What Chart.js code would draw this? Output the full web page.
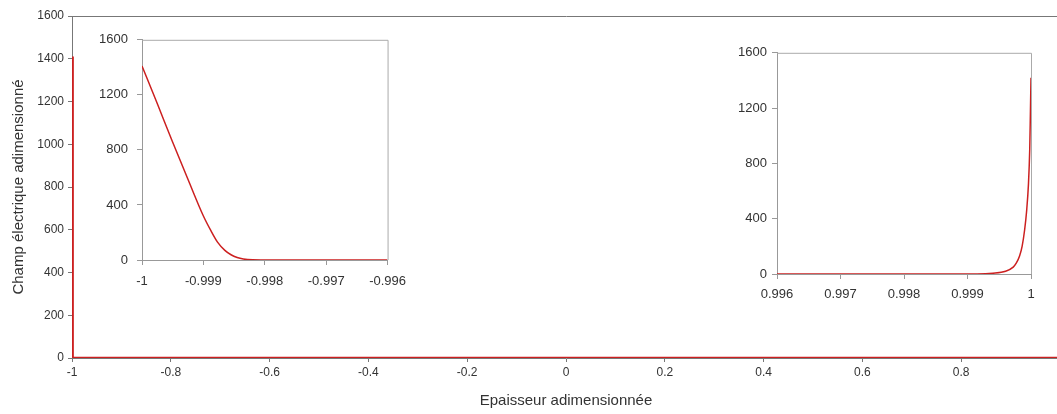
<!DOCTYPE html>
<html>
<head>
<meta charset="utf-8">
<script src="https://cdn.jsdelivr.net/npm/chart.js@4"></script>
<style>
  html, body { margin: 0; padding: 0; background: #fff; overflow: hidden; width: 1057px; height: 414px; }
  #wrap { position: relative; width: 1057px; height: 414px; overflow: hidden; }
  canvas { position: absolute; }
</style>
</head>
<body>
<div id="wrap">
  <canvas id="main" width="1062" height="414" style="left:0;top:0"></canvas>
  <canvas id="insetLeft" width="325" height="272" style="left:90px;top:23px"></canvas>
  <canvas id="insetRight" width="331" height="269" style="left:725px;top:40px"></canvas>
</div>
<script>
const xLeft = [-1, -0.99975, -0.9995, -0.99925, -0.999, -0.99888, -0.99877, -0.99865, -0.99855, -0.99845, -0.99835, -0.9982, -0.998, -0.996];
const eLeft = [1410, 1135, 855, 585, 320, 215, 130, 70, 38, 18, 7, 1, 0, 0];
const xRight = [0.996, 0.999, 0.99915, 0.9994, 0.9996, 0.99972, 0.99977, 0.99982, 0.99986, 0.9999, 0.99993, 0.99996, 0.99998, 0.99999, 1];
const eRight = [0, 0, 0, 5, 20, 50, 80, 130, 200, 320, 450, 650, 900, 1150, 1420];

const mainXTicks = [-1, -0.8, -0.6, -0.4, -0.2, 0, 0.2, 0.4, 0.6, 0.8];
const mainYTicks = [0, 200, 400, 600, 800, 1000, 1200, 1400, 1600];
const insetYTicks = [0, 400, 800, 1200, 1600];
const leftXTicks = [-1, -0.999, -0.998, -0.997, -0.996];
const rightXTicks = [0.996, 0.997, 0.998, 0.999, 1];

Chart.defaults.font.family = '"Liberation Sans", Arial, sans-serif';
Chart.defaults.color = '#333';
Chart.defaults.animation = false;

const RED = '#cc2020';

function toPoints(xs, ys) {
  return xs.map((x, i) => ({ x: x, y: ys[i] }));
}
function fmt(v) {
  return String(Number(v.toFixed(4)));
}
function fixedTicks(arr) {
  return scale => { scale.ticks = arr.map(v => ({ value: v })); };
}

const boxPlugin = {
  id: 'box',
  afterDraw(chart, args, opts) {
    const a = chart.chartArea, ctx = chart.ctx;
    ctx.save();
    ctx.strokeStyle = opts.color || '#aaa';
    ctx.lineWidth = 1;
    ctx.beginPath();
    ctx.moveTo(a.left, a.top + 0.5);
    ctx.lineTo(a.right + 0.5, a.top + 0.5);
    ctx.lineTo(a.right + 0.5, a.bottom);
    ctx.stroke();
    ctx.restore();
  }
};

// graphique principal
new Chart(document.getElementById('main'), {
  type: 'scatter',
  data: {
    datasets: [{
      data: toPoints(xLeft.concat(xRight), eLeft.concat(eRight)),
      showLine: true,
      borderColor: RED,
      borderWidth: 2.5,
      pointRadius: 0,
      tension: 0
    }]
  },
  options: {
    responsive: false,
    layout: { padding: { left: 0, right: 2, top: 0, bottom: 0 } },
    plugins: { legend: { display: false }, tooltip: { enabled: false } },
    scales: {
      x: {
        type: 'linear', min: -1, max: 1,
        afterBuildTicks: fixedTicks(mainXTicks),
        afterFit: s => { s.height = 56; },
        grid: { drawOnChartArea: false, tickLength: 4, color: '#777' },
        border: { color: '#777' },
        ticks: { font: { size: 12 }, padding: 3, maxRotation: 0, callback: fmt },
        title: { display: true, text: 'Epaisseur adimensionnée', font: { size: 15 }, padding: { top: 0, bottom: 4 } }
      },
      xTop: {
        type: 'linear', position: 'top', min: -1, max: 1,
        afterFit: s => { s.height = 16; },
        grid: { display: false },
        border: { display: true, color: '#777' },
        ticks: { display: false }
      },
      y: {
        min: 0, max: 1600,
        afterBuildTicks: fixedTicks(mainYTicks),
        afterFit: s => { s.width = 72; },
        grid: { drawOnChartArea: false, tickLength: 4, color: '#777' },
        border: { color: '#777' },
        ticks: { font: { size: 12 }, padding: 4, callback: fmt },
        title: { display: true, text: 'Champ électrique adimensionné', font: { size: 15 }, padding: { top: 10, bottom: 0 } }
      }
    }
  }
});

function insetOptions(xTicks, tickPad, xPad) {
  return {
    responsive: false,
    layout: { padding: { left: 0, right: 25, top: 3, bottom: 0 } },
    plugins: { legend: { display: false }, tooltip: { enabled: false }, box: { color: '#aaa' } },
    scales: {
      x: {
        type: 'linear', min: xTicks[0], max: xTicks[xTicks.length - 1],
        afterBuildTicks: fixedTicks(xTicks),
        afterFit: s => { s.height = 35; },
        grid: { drawOnChartArea: false, tickLength: 5, color: '#999' },
        border: { color: '#999' },
        ticks: { font: { size: 13 }, padding: xPad, maxRotation: 0, callback: fmt }
      },
      y: {
        min: 0, max: 1600,
        afterBuildTicks: fixedTicks(insetYTicks),
        afterFit: s => { s.width = 52; },
        grid: { drawOnChartArea: false, tickLength: 5, color: '#999' },
        border: { color: '#999' },
        ticks: { font: { size: 13 }, padding: tickPad, callback: fmt }
      }
    }
  };
}

// encart paroi gauche
new Chart(document.getElementById('insetLeft'), {
  type: 'scatter',
  data: {
    datasets: [{
      data: toPoints(xLeft, eLeft),
      showLine: true, borderColor: RED, borderWidth: 1.5, pointRadius: 0,
      cubicInterpolationMode: 'monotone'
    }]
  },
  options: insetOptions(leftXTicks, 9, 9),
  plugins: [boxPlugin]
});

// encart paroi droite
new Chart(document.getElementById('insetRight'), {
  type: 'scatter',
  data: {
    datasets: [{
      data: toPoints(xRight, eRight),
      showLine: true, borderColor: RED, borderWidth: 1.5, pointRadius: 0,
      cubicInterpolationMode: 'monotone'
    }]
  },
  options: insetOptions(rightXTicks, 5, 8),
  plugins: [boxPlugin]
});
</script>
</body>
</html>
